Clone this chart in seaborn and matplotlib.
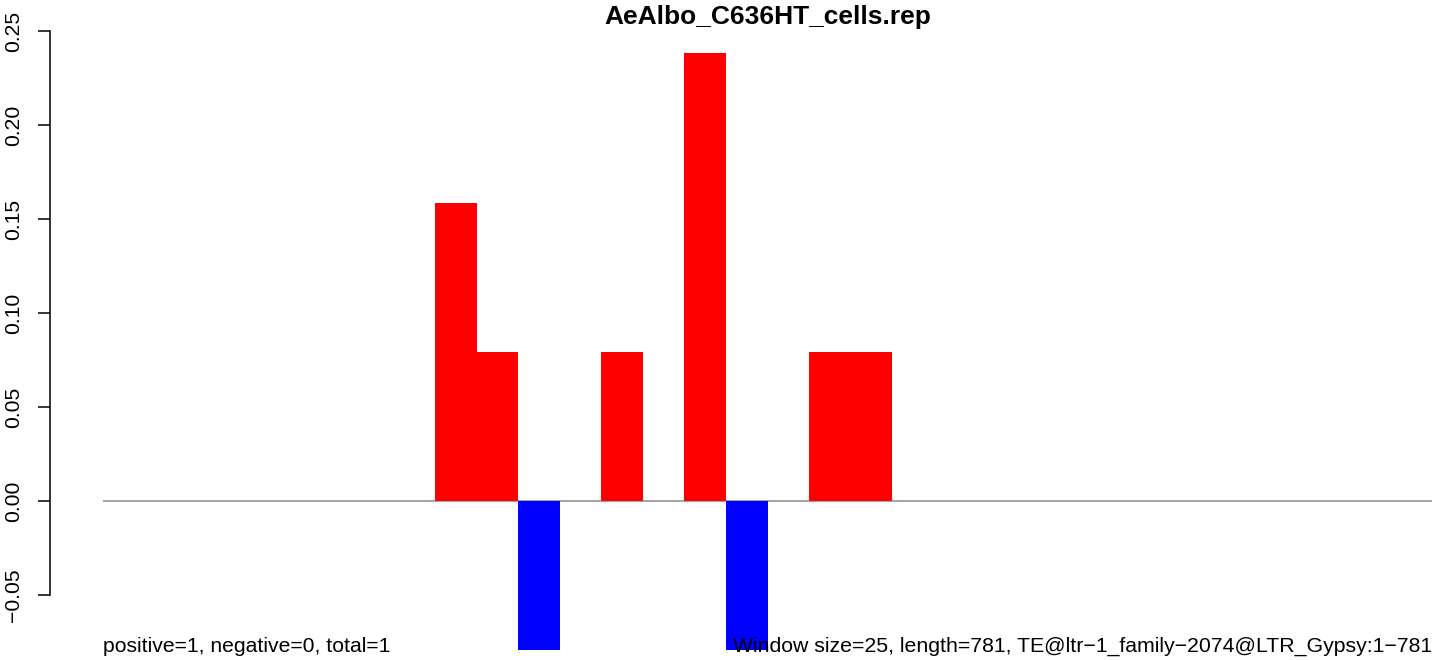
import numpy as np
import pandas as pd
import seaborn as sns
import matplotlib
matplotlib.use("Agg")
import matplotlib.pyplot as plt

# windows of 25 nt along a 781 nt element
windows = list(range(1, 33))
sense = [0, 0, 0, 0, 0, 0, 0, 0,
         0.1587, 0.0794, 0, 0, 0.0794, 0, 0.2381, 0,
         0, 0.0794, 0.0794, 0, 0, 0, 0, 0,
         0, 0, 0, 0, 0, 0, 0, 0]
antisense = [0, 0, 0, 0, 0, 0, 0, 0,
             0, 0, -0.0794, 0, 0, 0, 0, -0.0794,
             0, 0, 0, 0, 0, 0, 0, 0,
             0, 0, 0, 0, 0, 0, 0, 0]
yticks = [-0.05, 0.00, 0.05, 0.10, 0.15, 0.20, 0.25]

title = "AeAlbo_C636HT_cells.rep"
left_note = "positive=1, negative=0, total=1"
right_note = "Window size=25, length=781, TE@ltr\u22121_family\u22122074@LTR_Gypsy:1\u2212781"

df = pd.DataFrame({"window": windows, "sense": sense, "antisense": antisense})

sns.set_style("white")
plt.rcParams["font.family"] = ["Liberation Sans", "DejaVu Sans"]
plt.rcParams["text.color"] = "black"
plt.rcParams["ytick.color"] = "black"

W, H = 1444, 660
fig = plt.figure(figsize=(W / 100, H / 100), dpi=100)
ax = fig.add_axes([103 / W, 0, 1329 / W, 640 / H])

ax.hlines(0, -0.5, len(windows) - 0.5, color="#8c8c8c", lw=1.1, zorder=0.5)
sns.barplot(data=df, x="window", y="sense", color="#ff0000", width=1,
            saturation=1, linewidth=0, errorbar=None, ax=ax, zorder=2)
sns.barplot(data=df, x="window", y="antisense", color="#0000ff", width=1,
            saturation=1, linewidth=0, errorbar=None, ax=ax, zorder=2)

ax.set_xlim(-0.5, len(windows) - 0.5)
ax.set_ylim(-159 / 1880, 481 / 1880)
ax.set_xticks([])
ax.set_xlabel("")
ax.set_ylabel("")
for s in ["top", "right", "bottom"]:
    ax.spines[s].set_visible(False)
ax.spines["left"].set_position(("outward", 38))
ax.spines["left"].set_bounds(-0.05, 0.25)
ax.spines["left"].set_linewidth(1.1)
ax.spines["left"].set_color("black")
ax.set_yticks(yticks)
ax.set_yticklabels([("%.2f" % v).replace("-", "\u2212") for v in yticks],
                   rotation=90, va="center")
ax.tick_params(axis="y", length=8.6, width=1.1, pad=11, labelsize=15.2,
               left=True, colors="black")

fig.text(768 / W, 1 - 17 / H, title, ha="center", va="center",
         fontsize=19, fontweight="bold")
fig.text(103 / W, 1 - 652 / H, left_note, ha="left", va="baseline", fontsize=15.2)
fig.text(1432 / W, 1 - 652 / H, right_note, ha="right", va="baseline", fontsize=15.3)

fig.savefig("out.png", dpi=100)
